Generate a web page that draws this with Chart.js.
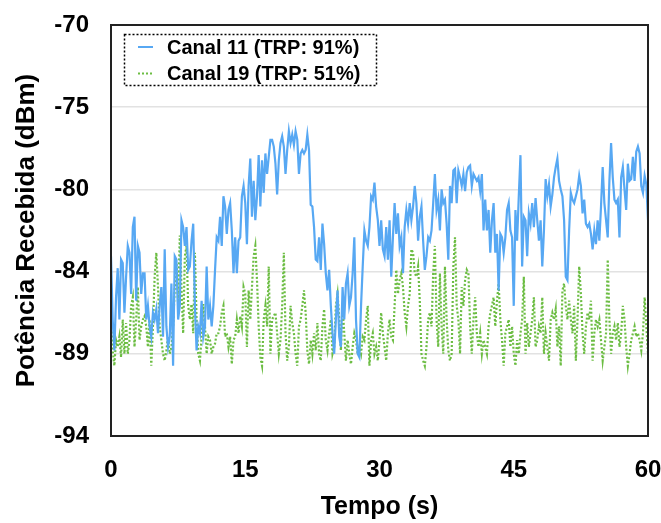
<!DOCTYPE html>
<html>
<head>
<meta charset="utf-8">
<script src="https://cdn.jsdelivr.net/npm/chart.js@4/dist/chart.umd.min.js"></script>
<style>
  html, body { margin: 0; padding: 0; background: #fff; }
</style>
</head>
<body>
<canvas id="grafico" width="661" height="523"></canvas>
<script>
// potencia recebida (dBm), uma amostra a cada ~0.19 s
const canal11 = [
  -83.5,-87.2,-89.0,-85.9,-84.2,-87.2,-83.7,-83.9,-86.8,-84.7,-82.9,-83.3,-85.7,-81.8,-81.2,-86.1,-82.9,-83.3,-85.7,-84.5,
  -84.5,-87.2,-86.4,-87.6,-88.2,-86.8,-87.2,-86.6,-88.0,-86.4,-85.3,-88.2,-83.1,-87.6,-88.8,-88.2,-85.1,-89.9,-83.5,-83.7,
  -87.2,-86.4,-81.4,-81.8,-82.9,-81.8,-84.3,-84.1,-82.6,-81.6,-86.4,-89.0,-87.6,-88.0,-86.1,-88.2,-87.6,-84.1,-87.2,-86.4,
  -87.6,-86.4,-84.3,-82.4,-82.6,-81.2,-82.9,-80.0,-80.6,-82.2,-80.8,-80.4,-82.0,-84.5,-82.4,-84.5,-82.6,-82.4,-80.0,-79.4,
  -80.4,
  -82.8,-79.4,-77.8,-81.2,-79.1,-81.4,-80.0,-77.6,-80.6,-77.9,-79.8,-77.5,-78.7,-77.7,-76.7,-76.7,-77.1,-78.1,-79.9,-77.9,
  -76.9,-76.5,-77.1,-78.7,-77.3,-76.2,-76.9,-76.4,-77.0,-76.2,-76.7,-78.7,-77.5,-77.3,-77.5,-77.3,-76.4,-77.3,-80.5,-80.6,
  -81.8,-83.7,-83.8,-82.4,-84.3,-81.6,-82.8,-84.5,-85.5,-84.3,-86.4,-88.0,-89.2,-87.2,-85.5,-88.2,-88.8,-85.3,-87.2,-85.1,
  -84.5,-86.4,-85.9,-84.5,-82.4,-87.2,-89.2,-89.4,-86.4,-84.1,-82.0,-82.6,-82.9,-81.8,-80.0,-80.2,-79.2,
  -80.6,-81.4,-82.9,-81.4,-83.1,-83.5,-81.8,-83.7,-81.4,-84.7,-82.4,-80.4,-82.2,-81.0,-82.9,-82.4,-84.5,-81.8,-80.8,-81.6,
  -80.4,-81.4,-80.6,-79.4,-80.4,-82.6,-81.2,-80.6,-82.6,-84.3,-83.5,-82.4,-82.6,-82.0,-80.4,-78.7,-80.8,-80.2,-82.0,-79.6,
  -80.4,-80.2,-81.6,-83.7,-79.4,-80.4,-78.5,-78.4,-80.4,-78.5,-78.9,-79.4,-78.7,-79.7,-78.6,-78.3,-78.2,-79.4,-78.7,-78.9,
  -79.1,-78.9,-79.7,-78.7,-82.0,-80.2,-82.0,-80.8,-83.3,-81.4,-80.4,-83.3,-82.2,-85.5,-82.2,-82.4,-83.3,-82.4,-80.8,-80.4,
  -82.0,
  -82.4,-86.4,-80.8,-82.6,-80.0,-77.6,-84.1,-81.2,-81.4,-83.5,-81.0,-81.6,-80.4,-81.8,-80.1,-81.4,-82.6,-81.4,-84.1,-82.0,
  -79.0,-80.0,-79.3,-80.6,-79.9,-78.9,-78.3,-77.8,-79.1,-79.6,-80.0,-81.4,-84.7,-84.9,-82.0,-79.8,-80.2,-80.4,-80.0,-79.6,
  -78.8,-79.4,-81.0,-80.2,-81.6,-81.8,-81.6,-82.2,-83.1,-82.0,-82.8,-81.4,-82.6,-80.6,-78.3,-80.4,-81.4,-82.4,-79.1,-76.9,
  -78.9,-80.2,-80.4,-80.2,-82.4,-78.9,-78.3,-79.6,-80.8,-78.1,-79.1,-79.0,-77.7,-79.1,-77.4,-77.1,-77.5,-79.4,-79.8,-78.8,
  -79.3,-81.4
];

const canal19 = [
  -87.2,-89.0,-89.9,-88.4,-88.8,-88.2,-89.4,-87.2,-89.2,-87.4,-89.2,-88.4,-86.4,-85.9,-88.8,-87.2,-85.3,-88.4,-87.6,-87.2,
  -87.0,-87.6,-88.8,-87.2,-89.9,-87.6,-84.7,-83.3,-85.3,-87.6,-88.4,-89.2,-89.6,-89.0,-88.2,-89.2,-88.8,-87.6,-85.3,-83.9,
  -86.3,-82.3,-85.3,-88.0,-83.5,-82.9,-86.4,-87.2,-86.3,-88.0,-83.3,-87.2,-89.2,-89.6,-88.2,-86.3,-87.6,-89.2,-88.2,-88.4,
  -89.2,-88.8,-88.6,-88.0,-88.0,-87.6,-86.8,-86.4,-88.2,-88.0,-88.8,-88.2,-89.8,-88.4,-88.2,-87.2,-88.0,-87.0,-87.6,-85.3,
  -85.7,
  -88.8,-85.5,-87.2,-85.3,-83.5,-82.9,-84.9,-87.6,-89.4,-89.9,-87.2,-86.4,-87.6,-84.1,-89.2,-87.2,-87.0,-86.8,-88.0,-89.2,
  -88.4,-86.4,-83.3,-88.0,-89.6,-88.8,-86.4,-87.4,-88.0,-89.2,-89.9,-87.6,-87.2,-86.4,-85.5,-86.8,-89.0,-89.8,-88.4,-89.2,
  -88.0,-89.0,-87.4,-89.2,-89.6,-87.6,-86.6,-88.4,-89.0,-88.0,-87.2,-89.2,-88.8,-86.4,-85.7,-87.2,-89.0,-86.4,-88.0,-89.6,
  -88.4,-89.2,-89.8,-88.8,-88.0,-88.4,-89.2,-88.8,-89.2,-88.2,-88.4,-87.2,-86.4,-89.9,-88.4,-88.0,-89.2,
  -88.8,-89.6,-88.4,-86.8,-88.0,-88.8,-89.6,-88.0,-87.2,-88.2,-88.4,-86.4,-84.3,-85.7,-84.9,-84.5,-85.3,-86.8,-87.6,-86.4,
  -85.7,-83.1,-83.3,-84.5,-84.7,-84.1,-86.1,-89.2,-89.6,-89.9,-88.8,-87.2,-86.8,-87.6,-84.5,-82.9,-87.2,-88.8,-84.5,-87.6,
  -89.2,-84.1,-87.2,-89.0,-89.6,-89.2,-84.1,-82.4,-86.4,-87.2,-89.2,-85.3,-86.4,-84.9,-84.3,-84.5,-87.6,-89.2,-87.2,-85.9,
  -88.0,-88.8,-88.0,-89.2,-88.4,-88.8,-89.2,-87.6,-86.8,-86.4,-85.9,-87.6,-86.1,-85.1,-87.2,-88.4,-89.9,-88.0,-87.6,-87.2,
  -88.8,
  -87.6,-89.2,-89.9,-88.4,-89.2,-88.0,-87.2,-84.7,-89.2,-87.4,-88.8,-88.0,-87.2,-85.9,-88.8,-88.4,-87.6,-88.0,-85.9,-89.2,
  -88.0,-88.8,-89.6,-87.2,-86.8,-87.2,-86.6,-88.8,-87.6,-89.9,-85.5,-85.1,-86.4,-87.2,-86.1,-87.2,-88.0,-86.4,-89.6,-87.2,
  -84.1,-85.7,-88.0,-89.2,-87.6,-86.8,-87.2,-86.1,-89.6,-88.0,-87.2,-87.6,-87.2,-88.4,-89.6,-88.8,-88.0,-83.7,-87.2,-89.2,
  -88.0,-87.6,-88.4,-87.4,-88.8,-88.0,-86.4,-87.2,-88.8,-89.9,-89.2,-88.4,-88.0,-87.6,-88.2,-88.0,-88.4,-89.0,-88.0,-85.9,
  -87.6,-89.2
];

const passo = 60 / 320; // segundos entre amostras
const xTicks = [0, 15, 30, 45, 60];
const yTicks = [-94, -89.2, -84.4, -79.6, -74.8, -70];
const nomes = ["Canal 11 (TRP: 91%)", "Canal 19 (TRP: 51%)"];

const fonte = "'Liberation Sans', Arial, Helvetica, sans-serif";

function pontos(serie) {
  return serie.map((v, i) => ({ x: i * passo, y: v }));
}

// caixa preta em volta da area do grafico + legenda pontilhada
const moldura = {
  id: "moldura",
  afterDatasetsDraw(chart) {
    const { ctx, chartArea: a } = chart;
    ctx.save();
    ctx.strokeStyle = "#222";
    ctx.lineWidth = 2;
    ctx.strokeRect(a.left, a.top, a.right - a.left, a.bottom - a.top);

    // legenda
    const lx = a.left + 13, ly = a.top + 9, lw = 252, lh = 51;
    ctx.fillStyle = "#fff";
    ctx.fillRect(lx, ly, lw, lh);
    ctx.setLineDash([2, 2]);
    ctx.lineWidth = 1.5;
    ctx.strokeStyle = "#000";
    ctx.strokeRect(lx + 0.5, ly + 0.5, lw, lh);

    chart.data.datasets.forEach((ds, i) => {
      const y = ly + 13 + i * 26.5;
      ctx.setLineDash(ds.borderDash || []);
      ctx.strokeStyle = ds.borderColor;
      ctx.lineWidth = 2;
      ctx.beginPath();
      ctx.moveTo(lx + 14, y);
      ctx.lineTo(lx + 29, y);
      ctx.stroke();
      ctx.setLineDash([]);
      ctx.fillStyle = "#000";
      ctx.font = "bold 20px " + fonte;
      ctx.textBaseline = "middle";
      ctx.fillText(ds.label, lx + 43, y + 1);
    });
    ctx.restore();
  },
};

new Chart(document.getElementById("grafico"), {
  type: "line",
  data: {
    datasets: [
      {
        label: nomes[0],
        data: pontos(canal11),
        borderColor: "#57a8f3",
        borderWidth: 2.2,
        pointRadius: 0,
        tension: 0,
      },
      {
        label: nomes[1],
        data: pontos(canal19),
        borderColor: "#6cbd43",
        borderWidth: 2.2,
        borderDash: [2, 2],
        pointRadius: 0,
        tension: 0,
      },
    ],
  },
  options: {
    responsive: false,
    animation: false,
    layout: { padding: { top: 25, right: 13, left: 0, bottom: 0 } },
    plugins: { legend: { display: false }, tooltip: { enabled: false } },
    scales: {
      x: {
        type: "linear",
        min: 0,
        max: 60,
        afterBuildTicks: (s) => { s.ticks = xTicks.map((v) => ({ value: v })); },
        afterFit: (s) => { s.height = 87; s.paddingLeft = 0; s.paddingRight = 0; },
        grid: { display: false, drawTicks: false },
        border: { display: false },
        ticks: {
          color: "#000",
          padding: 20,
          maxRotation: 0,
          font: { family: fonte, size: 24, weight: "bold" },
        },
        title: {
          display: true,
          text: "Tempo (s)",
          color: "#000",
          padding: { top: 0, bottom: 1 },
          font: { family: fonte, size: 25, weight: "bold" },
        },
      },
      y: {
        min: -94,
        max: -70,
        afterBuildTicks: (s) => { s.ticks = yTicks.map((v) => ({ value: v })); },
        afterFit: (s) => { s.width = 111; s.paddingTop = 0; s.paddingBottom = 0; },
        grid: { color: "#e2e2e2", lineWidth: 1.5, drawTicks: false },
        border: { display: false },
        ticks: {
          color: "#000",
          padding: 22,
          font: { family: fonte, size: 24, weight: "bold" },
          callback: (v) => Math.round(v),
        },
        title: {
          display: true,
          text: "Potência Recebida (dBm)",
          color: "#000",
          padding: { top: 11, bottom: 0 },
          font: { family: fonte, size: 26, weight: "bold" },
        },
      },
    },
  },
  plugins: [moldura],
});
</script>
</body>
</html>
